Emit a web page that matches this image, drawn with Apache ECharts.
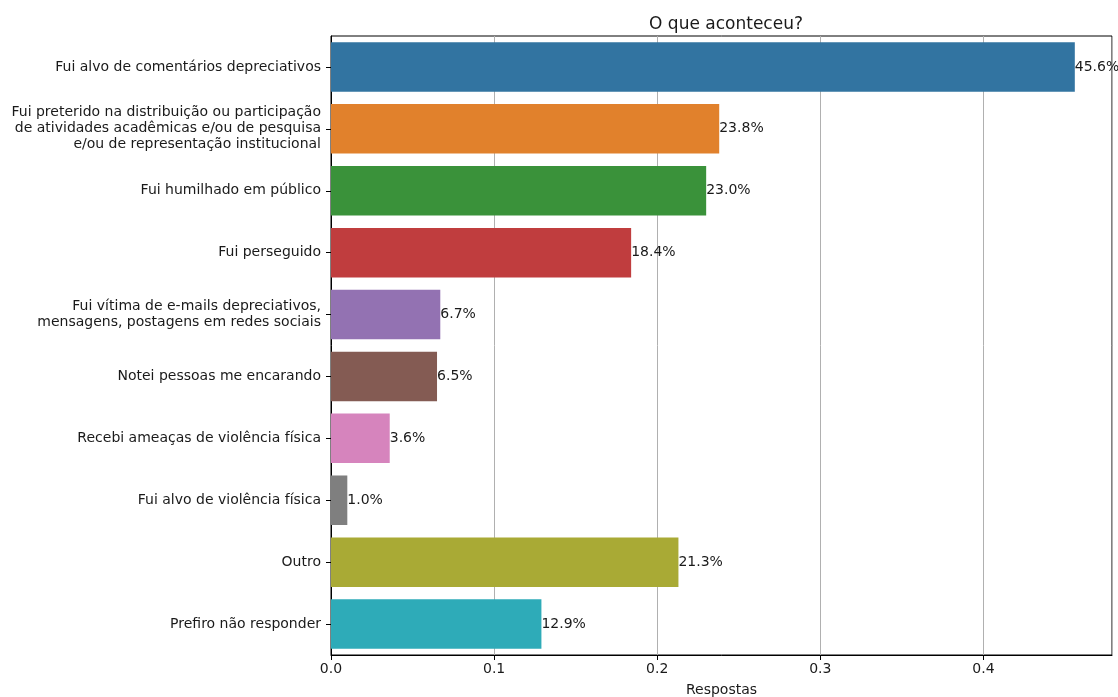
<!DOCTYPE html>
<html>
<head>
<meta charset="utf-8">
<script src="https://cdn.jsdelivr.net/npm/echarts@6/dist/echarts.min.js"></script>
<style>
  html, body { margin: 0; padding: 0; background: #fff; }
  #chart { width: 1118px; height: 697px; }
</style>
</head>
<body>
<div id="chart"></div>
<script>
var categories = [
    'Fui alvo de comentários depreciativos',
    'Fui preterido na distribuição ou participação\nde atividades acadêmicas e/ou de pesquisa\ne/ou de representação institucional',
    'Fui humilhado em público',
    'Fui perseguido',
    'Fui vítima de e-mails depreciativos,\nmensagens, postagens em redes sociais',
    'Notei pessoas me encarando',
    'Recebi ameaças de violência física',
    'Fui alvo de violência física',
    'Outro',
    'Prefiro não responder'
];
var respostas = [0.456, 0.238, 0.230, 0.184, 0.067, 0.065, 0.036, 0.010, 0.213, 0.129];
var xTicks = [0, 0.1, 0.2, 0.3, 0.4];

var palette = ['#3274a1', '#e1812c', '#3a923a', '#c03d3e', '#9372b2',
               '#845b53', '#d684bd', '#7f7f7f', '#a9aa35', '#2eabb8'];
var font = 'DejaVu Sans';
var ink = '#1a1a1a';

var chart = echarts.init(document.getElementById('chart'));

var option = {
    backgroundColor: '#fff',
    animation: false,
    title: {
        text: 'O que aconteceu?',
        left: 721,
        top: 11,
        textAlign: 'center',
        textStyle: { fontFamily: font, fontSize: 17, fontWeight: 'normal', color: ink }
    },
    grid: {
        left: 331, right: 6, top: 36, bottom: 42,
        outerBoundsMode: 'none',
        containLabel: false,
        show: true, borderColor: '#000', borderWidth: 1
    },
    xAxis: {
        type: 'value',
        min: 0,
        max: 0.4788,
        interval: 0.1,
        name: 'Respostas',
        nameLocation: 'middle',
        nameGap: 28,
        nameTextStyle: { fontFamily: font, fontSize: 14, color: ink },
        axisLine: { show: true, lineStyle: { color: '#000', width: 1 } },
        axisTick: { show: true, length: 5, lineStyle: { color: '#000' } },
        axisLabel: {
            margin: 7,
            fontFamily: font, fontSize: 14, color: ink,
            showMaxLabel: false,
            formatter: function (v) {
                return xTicks.some(function (t) { return Math.abs(t - v) < 1e-9; }) ? v.toFixed(1) : '';
            }
        },
        splitLine: { show: true, lineStyle: { color: '#b0b0b0', width: 1 } }
    },
    yAxis: {
        type: 'category',
        inverse: true,
        data: categories,
        axisLine: { show: true, lineStyle: { color: '#000', width: 1 } },
        axisTick: { show: true, length: 5, alignWithLabel: true, lineStyle: { color: '#000' } },
        axisLabel: {
            margin: 10,
            fontFamily: font, fontSize: 14, color: ink,
            lineHeight: 16, align: 'right'
        },
        splitLine: { show: false }
    },
    series: [
        {
            type: 'bar',
            barCategoryGap: '20%',
            data: respostas.map(function (v, i) {
                return { value: v, itemStyle: { color: palette[i] } };
            }),
            label: {
                show: true,
                position: 'right',
                distance: 0,
                fontFamily: font, fontSize: 14, color: ink,
                formatter: function (p) { return (p.value * 100).toFixed(1) + '%'; }
            }
        }
    ]
};

chart.setOption(option);

window.onresize = function () {
    chart.resize();
};
</script>
</body>
</html>
